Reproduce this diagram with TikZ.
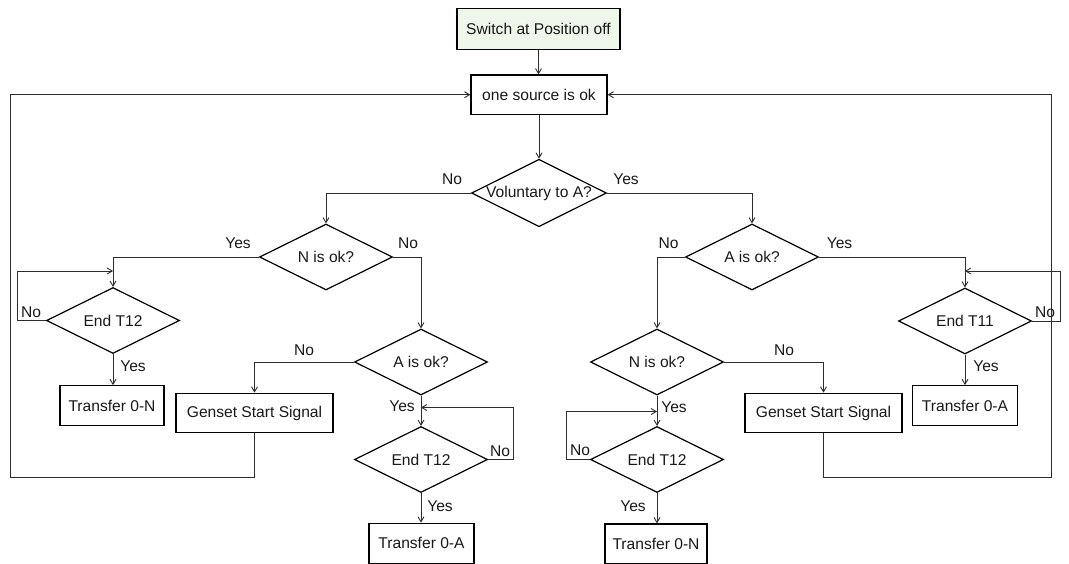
\documentclass[tikz,border=0pt]{standalone}
\usepackage{fontspec}
\setmainfont{Liberation Sans}
\usetikzlibrary{shapes.geometric,arrows.meta}
\definecolor{startfill}{RGB}{239,247,234}
\definecolor{linec}{RGB}{45,45,45}
\definecolor{txtc}{RGB}{25,25,25}
\begin{document}
\begin{tikzpicture}[x=1pt,y=-1pt,
  font=\fontsize{15.6}{18}\selectfont,
  boxnode/.style={draw=black,line width=1.3pt,inner sep=0pt,minimum height=39.5pt,fill=white,text=txtc},
  dec/.style={diamond,draw=black,line width=1.2pt,inner sep=0pt,minimum width=133pt,minimum height=66pt,aspect=2,text=txtc},
  conn/.style={draw=linec,line width=0.9pt},
  arr/.style={conn,-{Straight Barb[length=5pt,width=6pt]}},
  lbl/.style={inner sep=0pt,text=txtc}]
\useasboundingbox (0,0) rectangle (1069,563);
% boxes
\node[boxnode,fill=startfill,minimum width=163pt,minimum height=41pt] (start) at (538.5,28.7) {Switch at Position off};
\node[boxnode,minimum width=136pt,minimum height=39.3pt] (one) at (539,94.7) {one source is ok};
% decisions
\node[dec] (vol) at (539,193) {Voluntary to A?};
\node[dec] (nokl) at (326,257) {N is ok?};
\node[dec] (aokr) at (752,257) {A is ok?};
\node[dec] (t12a) at (113,320.5) {End T12};
\node[dec] (t11) at (965,321) {End T11};
\node[dec] (aokl) at (421,362) {A is ok?};
\node[dec] (nokr) at (657,362) {N is ok?};
\node[dec] (t12b) at (421,459.5) {End T12};
\node[dec] (t12c) at (657,459.5) {End T12};
% action boxes
\node[boxnode,minimum width=104pt] (trnl) at (112,405.5) {Transfer 0-N};
\node[boxnode,minimum width=157pt] (genl) at (254.5,413) {Genset Start Signal};
\node[boxnode,minimum width=105pt,minimum height=40pt] (tral) at (421.5,543.3) {Transfer 0-A};
\node[boxnode,minimum width=102pt,minimum height=40pt] (trnr) at (656,544) {Transfer 0-N};
\node[boxnode,minimum width=157pt] (genr) at (823.5,413) {Genset Start Signal};
\node[boxnode,minimum width=105pt] (trar) at (965,405.5) {Transfer 0-A};
% main connectors
\draw[arr] (start.south) -- (start.south |- one.north);
\draw[arr] (one.south) -- (vol.north);
\draw[arr] (vol.west) -| (nokl.north);
\draw[arr] (vol.east) -| (aokr.north);
\draw[arr] (nokl.west) -| (t12a.north);
\draw[arr] (nokl.east) -| (aokl.north);
\draw[arr] (aokl.west) -| (genl.north);
\draw[arr] (aokl.south) -- (t12b.north);
\draw[arr] (t12a.south) -- (t12a.south |- trnl.north);
\draw[arr] (t12b.south) -- (t12b.south |- tral.north);
\draw[arr] (aokr.east) -| (t11.north);
\draw[arr] (aokr.west) -| (nokr.north);
\draw[arr] (nokr.east) -| (genr.north);
\draw[arr] (nokr.south) -- (t12c.north);
\draw[arr] (t11.south) -- (t11.south |- trar.north);
\draw[arr] (t12c.south) -- (t12c.south |- trnr.north);
% wait loops
\coordinate (la) at (17,271);
\draw[arr] (t12a.west) -| (la) -- (t12a.north |- la);
\coordinate (lb) at (513,407.5);
\draw[arr] (t12b.east) -| (lb) -- (t12b.north |- lb);
\coordinate (lc) at (566,411.5);
\draw[arr] (t12c.west) -| (lc) -- (t12c.north |- lc);
\coordinate (ld) at (1060,271);
\draw[arr] (t11.east) -| (ld) -- (t11.north |- ld);
% outer loops
\coordinate (ol) at (10,477);
\draw[arr] (genl.south) |- (ol) |- (one.west);
\coordinate (or) at (1051,477);
\draw[arr] (genr.south) |- (or) |- (one.east);
% labels
\node[lbl] (v1) at (452,179) {No};
\node[lbl] (v2) at (626,179) {Yes};
\node[lbl] (n1) at (238,243) {Yes};
\node[lbl] (n2) at (408,243) {No};
\node[lbl] (a1) at (31,312) {No};
\node[lbl] (a2) at (133,366) {Yes};
\node[lbl] (b1) at (304,350) {No};
\node[lbl] (b2) at (402,406) {Yes};
\node[lbl] (c1) at (500,451.5) {No};
\node[lbl] (c2) at (440,506) {Yes};
\node[lbl] (d1) at (668.5,243) {No};
\node[lbl] (d2) at (839.5,243) {Yes};
\node[lbl] (e1) at (1045,312) {No};
\node[lbl] (e2) at (986,366) {Yes};
\node[lbl] (f1) at (784,350) {No};
\node[lbl] (f2) at (674,407.5) {Yes};
\node[lbl] (g1) at (580,450) {No};
\node[lbl] (g2) at (633,506) {Yes};
\end{tikzpicture}
\end{document}
